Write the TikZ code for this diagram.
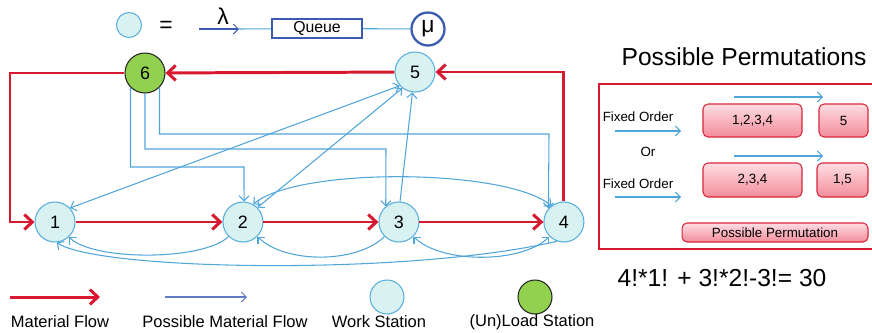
\documentclass[tikz,border=0pt]{standalone}
\usepackage{fontspec}
\setmainfont{Liberation Sans}
\usepackage{tikz}
\usetikzlibrary{arrows.meta,positioning}
\usepackage{xcolor}
\definecolor{flowred}{RGB}{215,24,47}
\definecolor{possblue}{RGB}{80,165,218}
\definecolor{stationfill}{RGB}{216,241,241}
\definecolor{stationline}{RGB}{90,174,221}
\definecolor{loadgreen}{RGB}{146,208,80}
\definecolor{darkblue}{RGB}{58,91,176}
\definecolor{boxline}{RGB}{217,38,59}
\definecolor{boxtop}{RGB}{255,222,226}
\definecolor{boxbot}{RGB}{243,140,155}

\begin{document}
\begin{tikzpicture}[x=0.02cm,y=-0.02cm,on grid,>={Straight Barb[length=1mm,width=2mm]}]
          \useasboundingbox (0,0) rectangle (872,332);
          \clip (0,0) rectangle (872,332);
          \tikzset{station/.style={circle,draw=stationline,fill=stationfill,line width=0.6pt,minimum size=0.8cm,inner sep=0pt,font=\fontsize{10.2}{12}\selectfont}}
          \tikzset{loadstation/.style={station,draw=black!85,fill=loadgreen}}
          \tikzset{flow/.style={-{Straight Barb[length=1.6mm,width=3mm]},draw=flowred,line width=1.7pt}}
          \tikzset{possible/.style={->,draw=possblue,line width=0.6pt}}
          \tikzset{permbox/.style={rounded corners=0.1cm,draw=boxline,line width=0.6pt,top color=boxtop,bottom color=boxbot,inner sep=0pt,font=\fontsize{7.6}{9}\selectfont}}
          \tikzset{smalltext/.style={font=\fontsize{7.6}{9}\selectfont}}
          \tikzset{legendtext/.style={font=\fontsize{9.4}{11}\selectfont}}
          % stations
          \node[station]          (n1) at (55,222)            {1};
          \node[station]          (n2) [right=3.76cm of n1]   {2};
          \node[station]          (n3) [right=3.12cm of n2]   {3};
          \node[station]          (n4) [right=3.3cm of n3]    {4};
          \node[station]          (n5) at (415,72)            {5};
          \node[loadstation]      (n6) at (145,73)            {6};
          % material flow
          \coordinate (cl) at (10,222);
          \draw[flow] (n1) -- (n2);
          \draw[flow] (n2) -- (n3);
          \draw[flow] (n3) -- (n4);
          \draw[flow] (n4.north) |- (n5.east);
          \draw[flow] (n5) -- (n6);
          \draw[flow] (n6.west) -| (cl) -- (n1);
          % possible flow from the load station
          \coordinate (k2) at (244,167);
          \coordinate (k3) at (386,149);
          \coordinate (k4) at (549,134);
          \draw[possible] (n6.225) |- (k2) -- (n2.87);
          \draw[possible] (n6.south) |- (k3) -- (n3.130);
          \draw[possible] (n6.-45) |- (k4) -- (n4.139);
          \path (n1.43)  edge [possible,<->] (n5.222)
                (n2.45)  edge [possible,<->] (n5.232)
                (n3.87)  edge [possible]     (n5.263)
                (n2.60)  edge [possible,<->,out=40,in=140,looseness=0.5] (n4.128)
                (n2.225) edge [possible,out=-135,in=-45,looseness=0.55] (n1.-47)
                (n3.225) edge [possible,out=-135,in=-45,looseness=0.78] (n2.-45)
                (n4.225) edge [possible,<->,out=-135,in=-45,looseness=0.73] (n3.-45);
          \draw[possible] (n4.250) .. controls +(-150,35) and +(40,28) .. (n1.-85);
          % queue legend
          \node[station,minimum size=0.5cm] (ws0) at (129,25) {};
          \node[font=\fontsize{13}{15}\selectfont] (eq) at (166,27) {=};
          \coordinate (la) at (199,29);
          \coordinate (lb) at (239,29);
          \node[font=\fontsize{13}{15}\selectfont] (lam) at (223,16) {λ};
          \node[draw=darkblue,line width=1.3pt,minimum width=1.8cm,minimum height=0.38cm,inner sep=0pt,font=\fontsize{9}{11}\selectfont] (q) at (317,28.5) {Queue};
          \node[circle,draw=darkblue,line width=1.3pt,minimum size=0.66cm,inner sep=0pt,font=\fontsize{13}{15}\selectfont] (mu) at (428,29) {μ};
          \draw[->,draw=darkblue,line width=0.6pt] (la) -- (lb);
          \draw[possblue,line width=0.6pt] (lb) -- (q);
          \draw[possblue,line width=0.6pt] (q) -- (mu);
          % bottom legend
          \coordinate (r1) at (10,297);
          \coordinate (r2) at (100,297);
          \coordinate (p1) at (165,297);
          \coordinate (p2) at (247,297);
          \draw[flow] (r1) -- (r2);
          \draw[->,draw=darkblue!80,line width=0.6pt] (p1) -- (p2);
          \node[station,minimum size=0.68cm] (ws) at (387,297) {};
          \node[loadstation,minimum size=0.68cm] (ls) at (535,297) {};
          \node[legendtext] (t1) at (60,322)  {Material Flow};
          \node[legendtext] (t2) at (225,322) {Possible Material Flow};
          \node[legendtext] (t3) at (379,322) {Work Station};
          \node[legendtext] (t4) at (532,322) {(Un)Load Station};
          % permutations
          \node[font=\fontsize{14}{16}\selectfont] (title) at (744,57) {Possible Permutations};
          \draw[flowred,line width=1.2pt] (599,84) rectangle (890,249);
          \node[smalltext] (fo1) at (638,117) {Fixed Order};
          \node[smalltext] (or)  at (648,152) {Or};
          \node[smalltext] (fo2) at (638,184) {Fixed Order};
          \node[permbox,minimum width=1.98cm,minimum height=0.66cm] (b1) at (752.5,120.5) {1,2,3,4};
          \node[permbox,minimum width=0.98cm,minimum height=0.66cm] (b2) at (843.5,120.5) {5};
          \node[permbox,minimum width=1.98cm,minimum height=0.68cm] (b3) at (752.5,180)   {2,3,4};
          \node[permbox,minimum width=1.02cm,minimum height=0.68cm] (b4) at (842.5,180)   {1,5};
          \node[permbox,minimum width=3.72cm,minimum height=0.38cm] (b5) at (775,232.5)   {Possible Permutation};
          \coordinate (a1) at (615,131);  \coordinate (a2) at (681,131);
          \coordinate (a3) at (615,197);  \coordinate (a4) at (681,197);
          \coordinate (a5) at (734,97);   \coordinate (a6) at (823,97);
          \coordinate (a7) at (734,156);  \coordinate (a8) at (823,156);
          \draw[possible] (a1) -- (a2);
          \draw[possible] (a3) -- (a4);
          \draw[possible] (a5) -- (a6);
          \draw[possible] (a7) -- (a8);
          \node[font=\fontsize{14}{16}\selectfont] (sum) at (722,278) {4!*1! + 3!*2!-3!= 30};
        \end{tikzpicture}
\end{document}
